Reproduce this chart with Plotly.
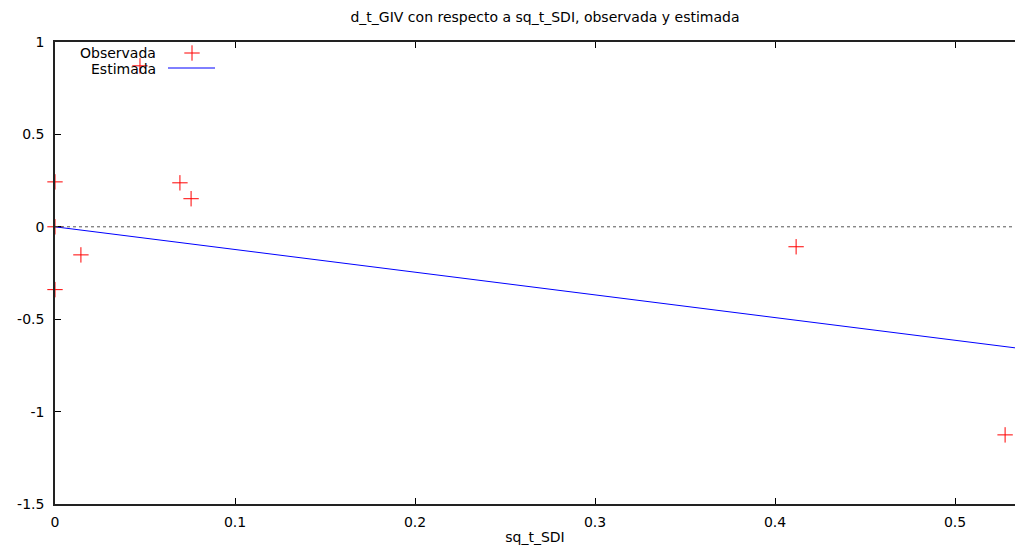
import plotly.graph_objects as go

# Observed data
obs_x = [0.0, 0.0, 0.0, 0.0144, 0.0472, 0.0694, 0.0756, 0.4117, 0.5278]
obs_y = [0.243, 0.0, -0.34, -0.152, 0.871, 0.238, 0.152, -0.108, -1.126]
# Estimated line endpoints
est_x = [0.0, 0.5333]
est_y = [0.0, -0.655]

x_ticks = [0, 0.1, 0.2, 0.3, 0.4, 0.5]
x_tick_labels = ["0", "0.1", "0.2", "0.3", "0.4", "0.5"]
y_ticks = [1, 0.5, 0, -0.5, -1, -1.5]
y_tick_labels = ["1", "0.5", "0", "-0.5", "-1", "-1.5"]

FONT = "DejaVu Sans"
FS = 14
MS = 11
W, H = 1016, 549
L, R, T, B = 55, 1, 42, 45
PW, PH = W - L - R, H - T - B

fig = go.Figure()
fig.add_trace(go.Scatter(
    x=obs_x, y=obs_y, mode="markers", cliponaxis=False,
    marker=dict(symbol="cross-thin-open", size=MS, color="#ff0000",
                line=dict(color="#ff0000", width=1)),
    showlegend=False))
fig.add_trace(go.Scatter(
    x=est_x, y=est_y, mode="lines", line=dict(color="#0000ff", width=1),
    showlegend=False))

# legend samples on pixel overlay axes
fig.add_trace(go.Scatter(
    x=[137], y=[11], mode="markers", xaxis="x2", yaxis="y2",
    marker=dict(symbol="cross-thin-open", size=MS, color="#ff0000",
                line=dict(color="#ff0000", width=1)),
    showlegend=False, hoverinfo="skip"))
fig.add_trace(go.Scatter(
    x=[113, 160], y=[26, 26], mode="lines", xaxis="x2", yaxis="y2",
    line=dict(color="#0000ff", width=1), showlegend=False, hoverinfo="skip"))

fig.add_annotation(x=103, y=11, xref="x2", yref="y2", text="Observada",
                   showarrow=False, xanchor="right", yanchor="middle",
                   font=dict(family=FONT, size=FS, color="#000"))
fig.add_annotation(x=103, y=27, xref="x2", yref="y2", text="Estimada",
                   showarrow=False, xanchor="right", yanchor="middle",
                   font=dict(family=FONT, size=FS, color="#000"))

fig.add_shape(type="line", xref="paper", yref="y", x0=0, x1=1, y0=0, y1=0,
              line=dict(color="#555555", width=1, dash="dot"))

axis_common = dict(showgrid=False, zeroline=False, showline=True, linecolor="#222",
                   linewidth=1.5, ticks="inside", ticklen=6, automargin=False,
                   tickcolor="#000", tickfont=dict(family=FONT, size=FS, color="#000"))

fig.update_layout(
    width=W, height=H,
    margin=dict(l=L, r=R, t=T, b=B),
    paper_bgcolor="white", plot_bgcolor="white",
    title=dict(text="d_t_GIV con respecto a sq_t_SDI, observada y estimada",
               x=(300 + 790) / 2 / W, xanchor="center", y=1 - 17 / H, yanchor="middle",
               font=dict(family=FONT, size=FS, color="#000")),
    xaxis=dict(range=[0, 0.5333], tickvals=x_ticks, ticktext=x_tick_labels,
               mirror="ticks", ticklabelstandoff=4,
               title=dict(text="sq_t_SDI", font=dict(family=FONT, size=FS, color="#000"),
                          standoff=4),
               **axis_common),
    yaxis=dict(range=[-1.5, 1], tickvals=y_ticks, ticktext=y_tick_labels,
               mirror=False, ticklabelstandoff=6, **axis_common),
    xaxis2=dict(range=[0, PW], overlaying="x", visible=False, fixedrange=True),
    yaxis2=dict(range=[PH, 0], overlaying="y", visible=False, fixedrange=True),
    showlegend=False,
)

fig.write_html("out.html", config={"displayModeBar": False},
               post_script="document.body.style.margin='0';document.body.style.overflow='hidden';")
